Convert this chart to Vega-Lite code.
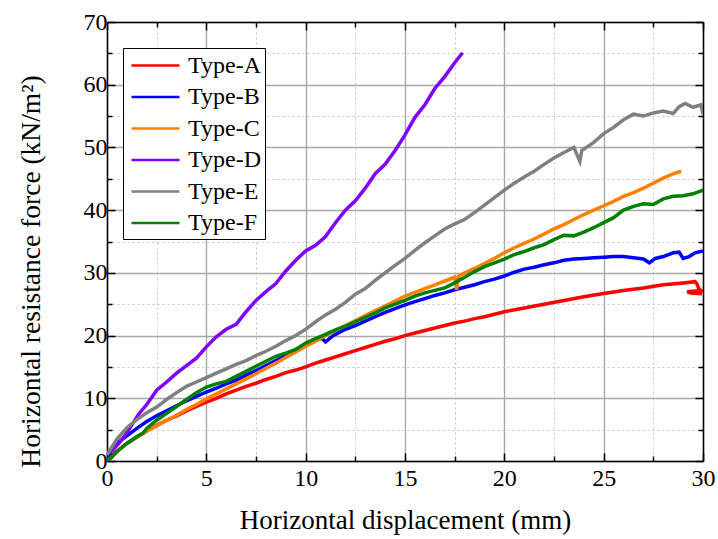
{
  "$schema": "https://vega.github.io/schema/vega-lite/v6.json",
  "width": 596,
  "height": 439,
  "autosize": "none",
  "padding": {"left": 107, "top": 22, "right": 15, "bottom": 78},
  "background": "white",
  "config": {
    "view": {"stroke": null},
    "font": "Liberation Serif"
  },
  "datasets": {
    "curves": [
      {"s":"Type-A","x":0,"y":0},{"s":"Type-A","x":0.3,"y":1.0},{"s":"Type-A","x":0.6,"y":1.8},{"s":"Type-A","x":1,"y":2.8},{"s":"Type-A","x":1.5,"y":3.8},{"s":"Type-A","x":2,"y":4.8},{"s":"Type-A","x":2.5,"y":5.7},{"s":"Type-A","x":3,"y":6.5},{"s":"Type-A","x":3.5,"y":7.2},{"s":"Type-A","x":4,"y":8.0},{"s":"Type-A","x":4.5,"y":8.7},{"s":"Type-A","x":5,"y":9.4},{"s":"Type-A","x":5.5,"y":10.0},{"s":"Type-A","x":6,"y":10.7},{"s":"Type-A","x":6.5,"y":11.3},{"s":"Type-A","x":7,"y":11.9},{"s":"Type-A","x":7.5,"y":12.4},{"s":"Type-A","x":8,"y":13.0},{"s":"Type-A","x":8.5,"y":13.5},{"s":"Type-A","x":9,"y":14.1},{"s":"Type-A","x":9.5,"y":14.5},{"s":"Type-A","x":10,"y":15.0},{"s":"Type-A","x":10.5,"y":15.6},{"s":"Type-A","x":11,"y":16.1},{"s":"Type-A","x":11.5,"y":16.6},{"s":"Type-A","x":12,"y":17.1},{"s":"Type-A","x":12.5,"y":17.6},{"s":"Type-A","x":13,"y":18.1},{"s":"Type-A","x":13.5,"y":18.6},{"s":"Type-A","x":14,"y":19.1},{"s":"Type-A","x":14.5,"y":19.5},{"s":"Type-A","x":15,"y":20.0},{"s":"Type-A","x":15.5,"y":20.4},{"s":"Type-A","x":16,"y":20.8},{"s":"Type-A","x":16.5,"y":21.2},{"s":"Type-A","x":17,"y":21.6},{"s":"Type-A","x":17.5,"y":22.0},{"s":"Type-A","x":18,"y":22.3},{"s":"Type-A","x":18.5,"y":22.7},{"s":"Type-A","x":19,"y":23.0},{"s":"Type-A","x":19.5,"y":23.4},{"s":"Type-A","x":20,"y":23.8},{"s":"Type-A","x":21,"y":24.4},{"s":"Type-A","x":22,"y":25.0},{"s":"Type-A","x":23,"y":25.6},{"s":"Type-A","x":24,"y":26.2},{"s":"Type-A","x":25,"y":26.7},{"s":"Type-A","x":26,"y":27.2},{"s":"Type-A","x":27,"y":27.6},{"s":"Type-A","x":28,"y":28.1},{"s":"Type-A","x":29,"y":28.4},{"s":"Type-A","x":29.6,"y":28.6},{"s":"Type-A","x":29.7,"y":28.2},{"s":"Type-A","x":29.8,"y":27.4},{"s":"Type-A","x":29.85,"y":26.7},{"s":"Type-A","x":29.4,"y":26.8},{"s":"Type-A","x":29.2,"y":27.0},{"s":"Type-A","x":29.6,"y":27.1},{"s":"Type-A","x":29.9,"y":27.2},{"s":"Type-A","x":30,"y":27.0},
      {"s":"Type-B","x":0,"y":0},{"s":"Type-B","x":0.2,"y":1.5},{"s":"Type-B","x":0.5,"y":2.8},{"s":"Type-B","x":1,"y":4.0},{"s":"Type-B","x":1.5,"y":5.2},{"s":"Type-B","x":2,"y":6.3},{"s":"Type-B","x":2.5,"y":7.2},{"s":"Type-B","x":3,"y":8.0},{"s":"Type-B","x":3.5,"y":8.8},{"s":"Type-B","x":4,"y":9.6},{"s":"Type-B","x":4.5,"y":10.3},{"s":"Type-B","x":5,"y":11.0},{"s":"Type-B","x":5.5,"y":11.6},{"s":"Type-B","x":6,"y":12.3},{"s":"Type-B","x":6.5,"y":12.9},{"s":"Type-B","x":7,"y":13.7},{"s":"Type-B","x":7.5,"y":14.4},{"s":"Type-B","x":8,"y":15.2},{"s":"Type-B","x":8.5,"y":16.0},{"s":"Type-B","x":9,"y":16.8},{"s":"Type-B","x":9.5,"y":17.6},{"s":"Type-B","x":10,"y":18.4},{"s":"Type-B","x":10.5,"y":19.2},{"s":"Type-B","x":10.8,"y":19.6},{"s":"Type-B","x":11,"y":19.0},{"s":"Type-B","x":11.3,"y":19.8},{"s":"Type-B","x":11.5,"y":20.2},{"s":"Type-B","x":12,"y":21.0},{"s":"Type-B","x":12.5,"y":21.6},{"s":"Type-B","x":13,"y":22.3},{"s":"Type-B","x":13.5,"y":23.0},{"s":"Type-B","x":14,"y":23.7},{"s":"Type-B","x":14.5,"y":24.3},{"s":"Type-B","x":15,"y":24.9},{"s":"Type-B","x":15.5,"y":25.4},{"s":"Type-B","x":16,"y":25.9},{"s":"Type-B","x":16.5,"y":26.4},{"s":"Type-B","x":17,"y":26.8},{"s":"Type-B","x":17.5,"y":27.3},{"s":"Type-B","x":18,"y":27.7},{"s":"Type-B","x":18.5,"y":28.1},{"s":"Type-B","x":19,"y":28.6},{"s":"Type-B","x":19.5,"y":29.0},{"s":"Type-B","x":20,"y":29.5},{"s":"Type-B","x":20.5,"y":30.1},{"s":"Type-B","x":21,"y":30.6},{"s":"Type-B","x":21.5,"y":30.9},{"s":"Type-B","x":22,"y":31.3},{"s":"Type-B","x":22.5,"y":31.6},{"s":"Type-B","x":23,"y":32.0},{"s":"Type-B","x":23.5,"y":32.2},{"s":"Type-B","x":24,"y":32.3},{"s":"Type-B","x":24.5,"y":32.4},{"s":"Type-B","x":25,"y":32.5},{"s":"Type-B","x":25.5,"y":32.6},{"s":"Type-B","x":26,"y":32.6},{"s":"Type-B","x":26.5,"y":32.4},{"s":"Type-B","x":27,"y":32.2},{"s":"Type-B","x":27.3,"y":31.6},{"s":"Type-B","x":27.6,"y":32.3},{"s":"Type-B","x":28,"y":32.6},{"s":"Type-B","x":28.5,"y":33.2},{"s":"Type-B","x":28.8,"y":33.3},{"s":"Type-B","x":29,"y":32.3},{"s":"Type-B","x":29.3,"y":32.6},{"s":"Type-B","x":29.6,"y":33.2},{"s":"Type-B","x":30,"y":33.5},
      {"s":"Type-C","x":0,"y":0},{"s":"Type-C","x":0.3,"y":0.8},{"s":"Type-C","x":0.6,"y":1.8},{"s":"Type-C","x":1,"y":2.8},{"s":"Type-C","x":1.5,"y":3.8},{"s":"Type-C","x":2,"y":4.8},{"s":"Type-C","x":2.5,"y":5.6},{"s":"Type-C","x":3,"y":6.5},{"s":"Type-C","x":3.5,"y":7.3},{"s":"Type-C","x":4,"y":8.2},{"s":"Type-C","x":4.5,"y":9.0},{"s":"Type-C","x":5,"y":9.9},{"s":"Type-C","x":5.5,"y":10.7},{"s":"Type-C","x":6,"y":11.5},{"s":"Type-C","x":6.5,"y":12.3},{"s":"Type-C","x":7,"y":13.1},{"s":"Type-C","x":7.5,"y":13.9},{"s":"Type-C","x":8,"y":14.8},{"s":"Type-C","x":8.5,"y":15.6},{"s":"Type-C","x":9,"y":16.5},{"s":"Type-C","x":9.5,"y":17.4},{"s":"Type-C","x":10,"y":18.3},{"s":"Type-C","x":10.5,"y":19.1},{"s":"Type-C","x":11,"y":20.0},{"s":"Type-C","x":11.5,"y":20.8},{"s":"Type-C","x":12,"y":21.6},{"s":"Type-C","x":12.5,"y":22.4},{"s":"Type-C","x":13,"y":23.2},{"s":"Type-C","x":13.5,"y":24.0},{"s":"Type-C","x":14,"y":24.7},{"s":"Type-C","x":14.5,"y":25.5},{"s":"Type-C","x":15,"y":26.3},{"s":"Type-C","x":15.5,"y":26.9},{"s":"Type-C","x":16,"y":27.5},{"s":"Type-C","x":16.5,"y":28.1},{"s":"Type-C","x":17,"y":28.7},{"s":"Type-C","x":17.5,"y":29.3},{"s":"Type-C","x":17.6,"y":27.3},{"s":"Type-C","x":17.7,"y":29.5},{"s":"Type-C","x":18,"y":30.0},{"s":"Type-C","x":18.5,"y":30.7},{"s":"Type-C","x":19,"y":31.5},{"s":"Type-C","x":19.5,"y":32.3},{"s":"Type-C","x":20,"y":33.2},{"s":"Type-C","x":20.5,"y":34.0},{"s":"Type-C","x":21,"y":34.7},{"s":"Type-C","x":21.5,"y":35.4},{"s":"Type-C","x":22,"y":36.2},{"s":"Type-C","x":22.5,"y":37.0},{"s":"Type-C","x":23,"y":37.7},{"s":"Type-C","x":23.5,"y":38.5},{"s":"Type-C","x":24,"y":39.3},{"s":"Type-C","x":24.5,"y":40.0},{"s":"Type-C","x":25,"y":40.7},{"s":"Type-C","x":25.5,"y":41.4},{"s":"Type-C","x":26,"y":42.2},{"s":"Type-C","x":26.5,"y":42.8},{"s":"Type-C","x":27,"y":43.5},{"s":"Type-C","x":27.5,"y":44.3},{"s":"Type-C","x":28,"y":45.1},{"s":"Type-C","x":28.5,"y":45.8},{"s":"Type-C","x":28.9,"y":46.2},
      {"s":"Type-D","x":0,"y":1.0},{"s":"Type-D","x":0.3,"y":1.8},{"s":"Type-D","x":0.6,"y":2.8},{"s":"Type-D","x":1,"y":4.5},{"s":"Type-D","x":1.3,"y":6.0},{"s":"Type-D","x":1.6,"y":7.5},{"s":"Type-D","x":2,"y":9.0},{"s":"Type-D","x":2.5,"y":11.3},{"s":"Type-D","x":3,"y":12.6},{"s":"Type-D","x":3.5,"y":14.0},{"s":"Type-D","x":4,"y":15.2},{"s":"Type-D","x":4.5,"y":16.4},{"s":"Type-D","x":5,"y":18.2},{"s":"Type-D","x":5.5,"y":19.8},{"s":"Type-D","x":6,"y":21.0},{"s":"Type-D","x":6.5,"y":21.8},{"s":"Type-D","x":7,"y":23.8},{"s":"Type-D","x":7.5,"y":25.6},{"s":"Type-D","x":8,"y":27.0},{"s":"Type-D","x":8.5,"y":28.3},{"s":"Type-D","x":9,"y":30.3},{"s":"Type-D","x":9.5,"y":32.0},{"s":"Type-D","x":10,"y":33.5},{"s":"Type-D","x":10.5,"y":34.4},{"s":"Type-D","x":11,"y":35.8},{"s":"Type-D","x":11.5,"y":38.0},{"s":"Type-D","x":12,"y":40.0},{"s":"Type-D","x":12.5,"y":41.5},{"s":"Type-D","x":13,"y":43.5},{"s":"Type-D","x":13.5,"y":45.8},{"s":"Type-D","x":14,"y":47.3},{"s":"Type-D","x":14.5,"y":49.5},{"s":"Type-D","x":15,"y":52.0},{"s":"Type-D","x":15.5,"y":54.8},{"s":"Type-D","x":16,"y":56.8},{"s":"Type-D","x":16.5,"y":59.4},{"s":"Type-D","x":17,"y":61.3},{"s":"Type-D","x":17.5,"y":63.5},{"s":"Type-D","x":17.9,"y":65.1},
      {"s":"Type-E","x":0,"y":1.0},{"s":"Type-E","x":0.2,"y":2.0},{"s":"Type-E","x":0.5,"y":3.5},{"s":"Type-E","x":1,"y":5.3},{"s":"Type-E","x":1.5,"y":6.6},{"s":"Type-E","x":2,"y":7.7},{"s":"Type-E","x":2.5,"y":8.6},{"s":"Type-E","x":3,"y":9.8},{"s":"Type-E","x":3.5,"y":10.9},{"s":"Type-E","x":4,"y":11.9},{"s":"Type-E","x":4.5,"y":12.6},{"s":"Type-E","x":5,"y":13.3},{"s":"Type-E","x":5.5,"y":14.0},{"s":"Type-E","x":6,"y":14.7},{"s":"Type-E","x":6.5,"y":15.4},{"s":"Type-E","x":7,"y":16.0},{"s":"Type-E","x":7.5,"y":16.8},{"s":"Type-E","x":8,"y":17.5},{"s":"Type-E","x":8.5,"y":18.3},{"s":"Type-E","x":9,"y":19.2},{"s":"Type-E","x":9.5,"y":20.0},{"s":"Type-E","x":10,"y":21.0},{"s":"Type-E","x":10.5,"y":22.2},{"s":"Type-E","x":11,"y":23.3},{"s":"Type-E","x":11.5,"y":24.2},{"s":"Type-E","x":12,"y":25.3},{"s":"Type-E","x":12.5,"y":26.6},{"s":"Type-E","x":13,"y":27.5},{"s":"Type-E","x":13.5,"y":28.8},{"s":"Type-E","x":14,"y":30.0},{"s":"Type-E","x":14.5,"y":31.2},{"s":"Type-E","x":15,"y":32.3},{"s":"Type-E","x":15.5,"y":33.6},{"s":"Type-E","x":16,"y":34.8},{"s":"Type-E","x":16.5,"y":35.9},{"s":"Type-E","x":17,"y":37.0},{"s":"Type-E","x":17.5,"y":37.8},{"s":"Type-E","x":18,"y":38.5},{"s":"Type-E","x":18.5,"y":39.6},{"s":"Type-E","x":19,"y":40.8},{"s":"Type-E","x":19.5,"y":42.0},{"s":"Type-E","x":20,"y":43.2},{"s":"Type-E","x":20.5,"y":44.3},{"s":"Type-E","x":21,"y":45.3},{"s":"Type-E","x":21.5,"y":46.2},{"s":"Type-E","x":22,"y":47.3},{"s":"Type-E","x":22.5,"y":48.3},{"s":"Type-E","x":23,"y":49.2},{"s":"Type-E","x":23.5,"y":50.0},{"s":"Type-E","x":23.8,"y":47.8},{"s":"Type-E","x":23.9,"y":49.5},{"s":"Type-E","x":24.5,"y":50.8},{"s":"Type-E","x":25,"y":52.2},{"s":"Type-E","x":25.5,"y":53.2},{"s":"Type-E","x":26,"y":54.4},{"s":"Type-E","x":26.5,"y":55.3},{"s":"Type-E","x":27,"y":55.0},{"s":"Type-E","x":27.5,"y":55.5},{"s":"Type-E","x":28,"y":55.8},{"s":"Type-E","x":28.5,"y":55.4},{"s":"Type-E","x":28.8,"y":56.5},{"s":"Type-E","x":29.1,"y":57.0},{"s":"Type-E","x":29.5,"y":56.4},{"s":"Type-E","x":29.9,"y":56.8},{"s":"Type-E","x":30,"y":55.3},
      {"s":"Type-F","x":0,"y":0},{"s":"Type-F","x":0.2,"y":0.5},{"s":"Type-F","x":0.5,"y":1.5},{"s":"Type-F","x":1,"y":2.8},{"s":"Type-F","x":1.5,"y":3.9},{"s":"Type-F","x":1.8,"y":4.4},{"s":"Type-F","x":2,"y":5.2},{"s":"Type-F","x":2.5,"y":6.5},{"s":"Type-F","x":3,"y":7.6},{"s":"Type-F","x":3.5,"y":8.7},{"s":"Type-F","x":4,"y":9.8},{"s":"Type-F","x":4.5,"y":10.9},{"s":"Type-F","x":5,"y":11.8},{"s":"Type-F","x":5.5,"y":12.3},{"s":"Type-F","x":6,"y":12.7},{"s":"Type-F","x":6.5,"y":13.5},{"s":"Type-F","x":7,"y":14.3},{"s":"Type-F","x":7.5,"y":15.1},{"s":"Type-F","x":8,"y":15.9},{"s":"Type-F","x":8.5,"y":16.7},{"s":"Type-F","x":9,"y":17.2},{"s":"Type-F","x":9.5,"y":17.8},{"s":"Type-F","x":10,"y":18.8},{"s":"Type-F","x":10.5,"y":19.5},{"s":"Type-F","x":11,"y":20.2},{"s":"Type-F","x":11.5,"y":20.9},{"s":"Type-F","x":12,"y":21.5},{"s":"Type-F","x":12.5,"y":22.2},{"s":"Type-F","x":13,"y":22.9},{"s":"Type-F","x":13.5,"y":23.6},{"s":"Type-F","x":14,"y":24.4},{"s":"Type-F","x":14.5,"y":25.0},{"s":"Type-F","x":15,"y":25.6},{"s":"Type-F","x":15.5,"y":26.3},{"s":"Type-F","x":16,"y":26.8},{"s":"Type-F","x":16.5,"y":27.2},{"s":"Type-F","x":17,"y":27.6},{"s":"Type-F","x":17.5,"y":28.4},{"s":"Type-F","x":18,"y":29.3},{"s":"Type-F","x":18.5,"y":30.2},{"s":"Type-F","x":19,"y":31.0},{"s":"Type-F","x":19.5,"y":31.6},{"s":"Type-F","x":20,"y":32.2},{"s":"Type-F","x":20.5,"y":32.9},{"s":"Type-F","x":21,"y":33.4},{"s":"Type-F","x":21.5,"y":34.0},{"s":"Type-F","x":22,"y":34.5},{"s":"Type-F","x":22.5,"y":35.3},{"s":"Type-F","x":23,"y":36.0},{"s":"Type-F","x":23.5,"y":35.9},{"s":"Type-F","x":24,"y":36.5},{"s":"Type-F","x":24.5,"y":37.2},{"s":"Type-F","x":25,"y":38.0},{"s":"Type-F","x":25.5,"y":38.8},{"s":"Type-F","x":26,"y":40.0},{"s":"Type-F","x":26.5,"y":40.6},{"s":"Type-F","x":27,"y":41.0},{"s":"Type-F","x":27.5,"y":40.9},{"s":"Type-F","x":28,"y":41.8},{"s":"Type-F","x":28.5,"y":42.2},{"s":"Type-F","x":29,"y":42.3},{"s":"Type-F","x":29.5,"y":42.6},{"s":"Type-F","x":30,"y":43.2}
    ]
  },
  "data": {"name": "curves"},
  "layer": [
    {
      "mark": {"type": "line", "strokeWidth": 3.5, "clip": true},
      "encoding": {
        "x": {
          "field": "x", "type": "quantitative",
          "scale": {"domain": [0, 30], "nice": false, "zero": false},
          "axis": {
            "orient": "bottom",
            "title": "Horizontal displacement (mm)",
            "titleFont": "Liberation Serif", "titleFontSize": 27, "titleFontWeight": "normal", "titleColor": "black",
            "titleY": 67, "titleBaseline": "alphabetic",
            "values": [0, 2.5, 5, 7.5, 10, 12.5, 15, 17.5, 20, 22.5, 25, 27.5, 30],
            "labelExpr": "datum.value % 5 === 0 ? datum.label : ''",
            "labelFont": "Liberation Serif", "labelFontSize": 24, "labelColor": "black", "labelPadding": 13,
            "labelFlush": false, "labelOverlap": false,
            "domainColor": "black", "domainWidth": 1.5,
            "tickColor": "black", "tickWidth": 1.5,
            "tickSize": {"condition": {"test": "datum.value % 5 === 0", "value": -8}, "value": -5},
            "grid": true,
            "gridColor": {"condition": {"test": "datum.value % 5 === 0", "value": "#a8a8a8"}, "value": "#c4c4c4"},
            "gridDash": {"condition": {"test": "datum.value % 5 === 0", "value": []}, "value": [2, 3]},
            "gridWidth": {"condition": {"test": "datum.value % 5 === 0", "value": 1.4}, "value": 1}
          }
        },
        "y": {
          "field": "y", "type": "quantitative",
          "scale": {"domain": [0, 70], "nice": false, "zero": false},
          "axis": {
            "orient": "left",
            "title": "Horizontal resistance force (kN/m²)",
            "titleFont": "Liberation Serif", "titleFontSize": 27.5, "titleFontWeight": "normal", "titleColor": "black",
            "titleX": -68, "titleY": 249, "titleBaseline": "alphabetic", "titleAngle": -90,
            "values": [0, 5, 10, 15, 20, 25, 30, 35, 40, 45, 50, 55, 60, 65, 70],
            "labelExpr": "datum.value % 10 === 0 ? datum.label : ''",
            "labelFont": "Liberation Serif", "labelFontSize": 24, "labelColor": "black", "labelPadding": 8,
            "labelFlush": false, "labelOverlap": false,
            "domainColor": "black", "domainWidth": 1.5,
            "tickColor": "black", "tickWidth": 1.5,
            "tickSize": {"condition": {"test": "datum.value % 10 === 0", "value": -8}, "value": -5},
            "grid": true,
            "gridColor": {"condition": {"test": "datum.value % 10 === 0", "value": "#a8a8a8"}, "value": "#c4c4c4"},
            "gridDash": {"condition": {"test": "datum.value % 10 === 0", "value": []}, "value": [2, 3]},
            "gridWidth": {"condition": {"test": "datum.value % 10 === 0", "value": 1.4}, "value": 1}
          }
        },
        "color": {
          "field": "s", "type": "nominal",
          "scale": {
            "domain": ["Type-A", "Type-B", "Type-C", "Type-D", "Type-E", "Type-F"],
            "range": ["#ff0000", "#0000ff", "#ff8000", "#8000ff", "#808080", "#008000"]
          },
          "legend": {
            "title": null,
            "orient": "none", "legendX": 16, "legendY": 26,
            "symbolType": "M-2,0H2", "symbolSize": 576, "symbolStrokeWidth": 2.5, "symbolOffset": 15,
            "labelFont": "Liberation Serif", "labelFontSize": 24, "labelColor": "black", "labelOffset": 19,
            "strokeColor": "black", "fillColor": "white", "padding": 4, "rowPadding": 5.5,
            "labelLimit": 200
          }
        },
        "order": {"value": null}
      }
    },
    {
      "mark": {"type": "line", "opacity": 0},
      "encoding": {
        "x": {
          "field": "x", "type": "quantitative",
          "axis": {
            "orient": "top", "title": null, "labels": false, "grid": false,
            "values": [0, 2.5, 5, 7.5, 10, 12.5, 15, 17.5, 20, 22.5, 25, 27.5, 30],
            "domainColor": "black", "domainWidth": 1.5,
            "tickColor": "black", "tickWidth": 1.5,
            "tickSize": {"condition": {"test": "datum.value % 5 === 0", "value": -8}, "value": -5}
          }
        },
        "y": {
          "field": "y", "type": "quantitative",
          "axis": {
            "orient": "right", "title": null, "labels": false, "grid": false,
            "values": [0, 5, 10, 15, 20, 25, 30, 35, 40, 45, 50, 55, 60, 65, 70],
            "domainColor": "black", "domainWidth": 1.5,
            "tickColor": "black", "tickWidth": 1.5,
            "tickSize": {"condition": {"test": "datum.value % 10 === 0", "value": -8}, "value": -5}
          }
        },
        "detail": {"field": "s"},
        "order": {"value": null}
      }
    }
  ],
  "resolve": {"axis": {"x": "independent", "y": "independent"}}
}
